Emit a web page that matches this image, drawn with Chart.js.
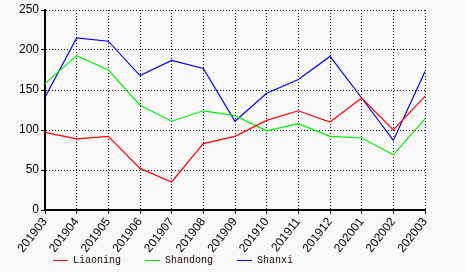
<!DOCTYPE html>
<html>
<head>
<meta charset="utf-8">
<script src="https://cdn.jsdelivr.net/npm/chart.js@4.4.1/dist/chart.umd.min.js"></script>
<style>
body { margin: 0; background: #f8f8f8; }
#wrap { position: relative; width: 466px; height: 272px; }
#legend { position: absolute; left: 53px; top: 255px; font: 10px "Liberation Mono", monospace; color: #200; white-space: nowrap; }
#legend .item { display: inline-block; width: 92px; }
#legend .line { display: inline-block; width: 15px; height: 1px; vertical-align: middle; margin-right: 5px; }
</style>
</head>
<body>
<div id="wrap">
  <canvas id="myChart" width="466" height="272"></canvas>
  <div id="legend"></div>
</div>
<script>
// months shown on the x axis
var months = ['201903','201904','201905','201906','201907','201908','201909','201910','201911','201912','202001','202002','202003']
// values
var liaoning = [97, 89, 92, 52, 35, 83, 92, 112, 124, 110, 140, 100, 142]
var shandong = [158, 193, 175, 131, 111, 124, 118, 99, 108, 92, 90, 69, 114]
var shanxi = [141, 215, 211, 168, 187, 177, 111, 146, 163, 192, 140, 87, 173]
var names = ['Liaoning', 'Shandong', 'Shanxi']
var colors = ['#ff0000', '#00ee00', '#0000ff']

function makeSet(i, values) {
    return {
        label: names[i],
        data: values,
        borderColor: colors[i],
        backgroundColor: colors[i],
        borderWidth: 1.2,
        pointRadius: 0,
        tension: 0,
        fill: false
    }
}

const ctx = document.getElementById('myChart')
const myChart = new Chart(ctx, {
    type: 'line',
    data: {
        labels: months,
        datasets: [makeSet(0, liaoning), makeSet(1, shandong), makeSet(2, shanxi)]
    },
    options: {
        responsive: false,
        animation: false,
        layout: { padding: { top: 10, right: 41, left: 0, bottom: 0 } },
        plugins: { legend: { display: false }, tooltip: { enabled: false } },
        scales: {
            x: {
                offset: false,
                grid: { color: '#000', lineWidth: 1, tickLength: 4, tickColor: '#000' },
                border: { display: true, color: '#000', width: 2, dash: [1, 2] },
                ticks: {
                    color: '#000', font: { family: 'Liberation Sans', size: 12 },
                    minRotation: 52, maxRotation: 52, padding: 1, autoSkip: false
                },
                afterFit: function (scale) { scale.height = 62 }
            },
            y: {
                min: 0, max: 250,
                grid: { color: '#000', lineWidth: 1, tickLength: 4, tickColor: '#000' },
                border: { display: true, color: '#000', width: 2, dash: [1, 2] },
                ticks: { stepSize: 50, color: '#000', font: { family: 'Liberation Sans', size: 12 }, padding: 2 },
                afterFit: function (scale) { scale.width = 45 }
            }
        }
    }
})

// legend below the plot, same order as the datasets
var legend = document.getElementById('legend')
for (var i = 0; i < names.length; i++) {
    var item = `<span class="item"><span class="line" style="background:${colors[i]}"></span>${names[i]}</span>`
    legend.innerHTML += item
}
</script>
</body>
</html>
